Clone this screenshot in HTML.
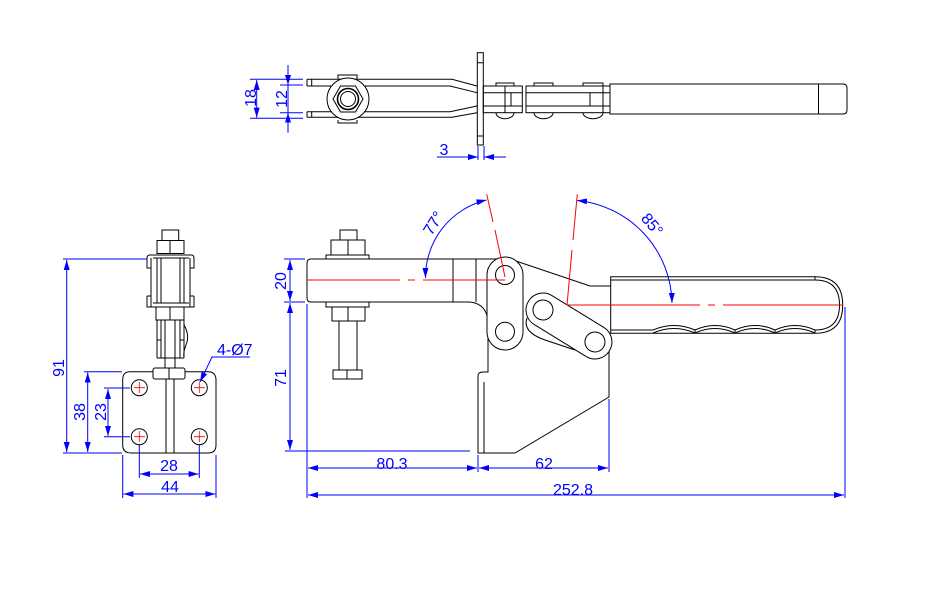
<!DOCTYPE html>
<html><head><meta charset="utf-8"><style>
html,body{margin:0;padding:0;background:#fff}
svg{display:block}
text{font-family:"Liberation Sans",sans-serif;fill:#0000ff;font-size:16px}
</style></head><body>
<svg width="945" height="602" viewBox="0 0 945 602" xmlns="http://www.w3.org/2000/svg">
<defs>
<marker id="a" viewBox="0 0 10 6" refX="10" refY="3" markerWidth="10" markerHeight="6" orient="auto-start-reverse" markerUnits="userSpaceOnUse"><path d="M0,0L10,3L0,6z" fill="#0000ff"/></marker>
</defs>
<rect width="945" height="602" fill="#fff"/>

<!-- ============ TOP VIEW ============ -->
<g fill="none" stroke="#000" stroke-width="1">
  <path d="M307,79.3 H452 L477,86"/>
  <path d="M307,86 H450 L477,92.7"/>
  <path d="M307,111.7 H450 L477,106"/>
  <path d="M307,117.3 H452 L477,112.7"/>
  <path d="M307,79.3 V86 M307,111.7 V117.3 M311.7,79.3 V86 M311.7,111.7 V117.3"/>
  <path d="M477,92.7 L480,99 L477,106"/>
  <path d="M338,79 V75 H357 V79"/>
  <path d="M338,120 V123 H357 V120"/>
  <circle cx="348" cy="99" r="21" fill="#fff"/>
  <polygon points="333,99 340.5,86 355.5,86 363,99 355.5,112 340.5,112" fill="#fff"/>
  <circle cx="348" cy="99" r="10.5" stroke-width="1.6"/>
  <circle cx="348" cy="99" r="7.5"/>
  <rect x="477.3" y="52.7" width="6" height="92.3" fill="#fff"/>
  <path d="M477.3,62.7 H483.3 M477.3,136 H483.3"/>
  <path d="M496,86 V83 H514 V86 M534,86 V83 H553 V86 M583,86 V83 H603 V86"/>
  <path d="M496,112.7 A9,6 0 0 0 514,112.7 M534,112.7 A9.5,6 0 0 0 553,112.7 M583,112.7 A10,6 0 0 0 603,112.7"/>
  <rect x="483.3" y="86" width="39" height="26.7"/>
  <path d="M483.3,92.7 H522.3 M483.3,106 H522.3"/>
  <rect x="526" y="86" width="84" height="26.7"/>
  <path d="M526,92.7 H610 M526,106 H610"/>
  <path d="M505,86 V112.7 M511,92.7 V106 M590,92.7 V106 M603,86 V112.7"/>
  <path d="M610,84 H843 Q847,84 847,88 V110 Q847,114 843,114 H610 Z" fill="#fff"/>
  <path d="M818.5,84 V114 M610,86 V112"/>
</g>
<g stroke="#0000ff" stroke-width="1" fill="none">
  <path d="M250,79.3 H303 M250,118.3 H303 M280,85 H303 M280,112.7 H303"/>
  <path d="M256.7,80 V117.6" marker-start="url(#a)" marker-end="url(#a)"/>
  <path d="M288,65 V85" marker-end="url(#a)"/>
  <path d="M288,132.7 V112.7" marker-end="url(#a)"/>
  <path d="M288,85 V112.7"/>
  <path d="M478,146 V160 M484,146 V160"/>
  <path d="M437,157 H478" marker-end="url(#a)"/>
  <path d="M506,157 H484" marker-end="url(#a)"/>
</g>
<text transform="translate(256,98) rotate(-90)" text-anchor="middle">18</text>
<text transform="translate(287,99) rotate(-90)" text-anchor="middle">12</text>
<text x="444" y="155" text-anchor="middle">3</text>

<!-- ============ LEFT VIEW ============ -->
<g fill="none" stroke="#000" stroke-width="1">
  <rect x="162" y="230" width="16.7" height="10.5" fill="#fff"/>
  <rect x="157" y="240.5" width="27" height="13"/>
  <path d="M170,240.5 V253.5"/>
  <path d="M150,255 H191 M147,258 V268 H151 M194,258 V268 H190 M147,296 V307 H194 V296"/>
  <path d="M151,258 V307 M190,258 V307 M147,258 Q147,255 150,255 M194,258 Q194,255 191,255"/>
  <path d="M153,258 H189 M153,303 H189 M157,258 V303 M161,258 V303 M180,258 V303 M184,258 V303"/>
  <path d="M147,296 H151 M190,296 H194"/>
  <rect x="156" y="307" width="28" height="13"/>
  <path d="M170,307 V320"/>
  <path d="M157,320 V358 M161,320 V358 M180,320 V358 M184,320 V358 M157,340 H161 M180,340 H184 M157,358 H184"/>
  <path d="M184,325 Q190,335 186,345 Q183,352 184,358"/>
  <path d="M165,320 V368 M175,320 V368"/>
  <path d="M130,371.7 H208 Q216,371.7 216,380 V445 Q216,453 208,453 H131 Q122.7,453 122.7,445 V380 Q122.7,371.7 130,371.7 Z" fill="#fff"/>
  <path d="M166,379 V453 M174,379 V453"/>
  <rect x="153" y="368" width="32" height="11" rx="2" fill="#fff"/>
  <path d="M169,368 V379"/>
  <circle cx="139.3" cy="387.7" r="8"/>
  <circle cx="199.3" cy="387.7" r="8"/>
  <circle cx="139.3" cy="436.7" r="8"/>
  <circle cx="199.3" cy="436.7" r="8"/>
</g>
<g stroke="#ff0000" stroke-width="0.8">
  <path d="M134,387.7 H145 M139.3,382 V393 M194,387.7 H205 M199.3,382 V393 M134,436.7 H145 M139.3,431 V442 M194,436.7 H205 M199.3,431 V442"/>
</g>
<g stroke="#0000ff" stroke-width="1" fill="none">
  <path d="M63,259 H147 M63,453 H122 M84,371.7 H122 M104,388 H130 M104,436.7 H130"/>
  <path d="M66.7,260 V452" marker-start="url(#a)" marker-end="url(#a)"/>
  <path d="M87.7,372.5 V452" marker-start="url(#a)" marker-end="url(#a)"/>
  <path d="M108,389 V436" marker-start="url(#a)" marker-end="url(#a)"/>
  <path d="M139.3,445 V478 M199.3,445 V478 M122.7,455 V498 M216,455 V498"/>
  <path d="M140,474 H198.6" marker-start="url(#a)" marker-end="url(#a)"/>
  <path d="M123.4,494 H215.3" marker-start="url(#a)" marker-end="url(#a)"/>
  <path d="M250,357 H212 L200,382" marker-end="url(#a)"/>
</g>
<text transform="translate(64,368) rotate(-90)" text-anchor="middle">91</text>
<text transform="translate(85,412) rotate(-90)" text-anchor="middle">38</text>
<text transform="translate(106,412) rotate(-90)" text-anchor="middle">23</text>
<text x="169" y="471" text-anchor="middle">28</text>
<text x="170" y="492" text-anchor="middle">44</text>
<text x="217" y="355">4-Ø7</text>

<!-- ============ MAIN VIEW ============ -->
<g fill="none" stroke="#000" stroke-width="1">
  <path d="M488,338 V372 L483,372 Q478,372 478,376 V453 H515 L609,397 V333" fill="#fff"/>
  <path d="M484,382 V453"/>
  <path d="M311,259 H510 L590,286 H611 M311,302 H470 Q488,304 488,324 V338 M311,259 Q307,259 307,263 V298 Q307,302 311,302"/>
  <path d="M453,259 V302 M476,259 V302"/>
  <path d="M505,257 A18,18 0 0 1 523,275 V332 A18,18 0 0 1 487,332 V275 A18,18 0 0 1 505,257 Z" fill="#fff"/>
  <circle cx="505" cy="275" r="9.5"/>
  <circle cx="505" cy="331.7" r="9.5"/>
  <path d="M527,318 Q522,332 545,340 L575,350"/>
  <g transform="translate(543,310) rotate(31.6)">
    <path d="M0,-17 H61 A17,17 0 0 1 61,17 H0 A17,17 0 0 1 0,-17 Z" fill="#fff"/>
    <circle cx="0" cy="0" r="10"/>
    <circle cx="61" cy="0" r="10"/>
  </g>
  <path d="M610.7,276.7 H815 Q842.7,276.7 842.7,305 Q842.7,333.3 815,333.3 H610.7 Z" fill="#fff"/>
  <path d="M610.7,280 H815 Q839.5,280 839.5,305 Q839.5,330 815,330"/>
  <path d="M653,330 Q674,321 695,330 Q715,321 735,330 Q755,321 775,330 Q795,321 815,330"/>
  <path d="M653,333 Q674,324 695,333 Q715,324 735,333 Q755,324 775,333 Q795,324 815,333"/>
  <path d="M610.7,330 H653 M695,330 V333 M735,330 V333 M775,330 V333 M815,276.7 V280 M815,330 V333.3"/>
  <rect x="340" y="230" width="17" height="10"/>
  <rect x="331" y="240" width="34" height="15"/>
  <path d="M348,240 V255"/>
  <rect x="326" y="255" width="43" height="4"/>
  <rect x="326" y="302" width="43" height="5"/>
  <rect x="332" y="307" width="33" height="14"/>
  <path d="M348,307 V321"/>
  <path d="M339,321 V370 M357,321 V370"/>
  <rect x="333" y="370" width="29" height="9"/>
  <path d="M347,370 V379"/>
</g>
<g stroke="#ff0000" stroke-width="1" fill="none">
  <path d="M307,280 H400 M408,280 H415 M423,280 H505"/>
  <path d="M567,305 H700 M708,305 H715 M723,305 H843"/>
  <path d="M505,277 L495,230 M493,222 L486.7,194.3"/>
  <path d="M567,305 L572,250 M573,240 L577.3,194.3"/>
</g>
<g stroke="#0000ff" stroke-width="1" fill="none">
  <path d="M425.5,278 A79.5,79.5 0 0 1 486.5,200" marker-start="url(#a)" marker-end="url(#a)"/>
  <path d="M577,200.5 A105,105 0 0 1 672,303" marker-start="url(#a)" marker-end="url(#a)"/>
</g>
<text transform="translate(438,226) rotate(-58)" text-anchor="middle">77°</text>
<text transform="translate(648,228) rotate(50)" text-anchor="middle">85°</text>
<g stroke="#0000ff" stroke-width="1" fill="none">
  <path d="M284,259 H305 M284,302 H305 M285,451 H470"/>
  <path d="M290,260 V301" marker-start="url(#a)" marker-end="url(#a)"/>
  <path d="M290,303 V450" marker-start="url(#a)" marker-end="url(#a)"/>
  <path d="M307,304 V498 M478,455 V472 M609,399 V472 M845,307 V498"/>
  <path d="M308,468 H477" marker-start="url(#a)" marker-end="url(#a)"/>
  <path d="M479,468 H608" marker-start="url(#a)" marker-end="url(#a)"/>
  <path d="M308,495 H844" marker-start="url(#a)" marker-end="url(#a)"/>
</g>
<text transform="translate(286,281) rotate(-90)" text-anchor="middle">20</text>
<text transform="translate(286,378) rotate(-90)" text-anchor="middle">71</text>
<text x="392" y="469" text-anchor="middle">80.3</text>
<text x="544" y="469" text-anchor="middle">62</text>
<text x="573" y="495" text-anchor="middle">252.8</text>
</svg>
</body></html>
